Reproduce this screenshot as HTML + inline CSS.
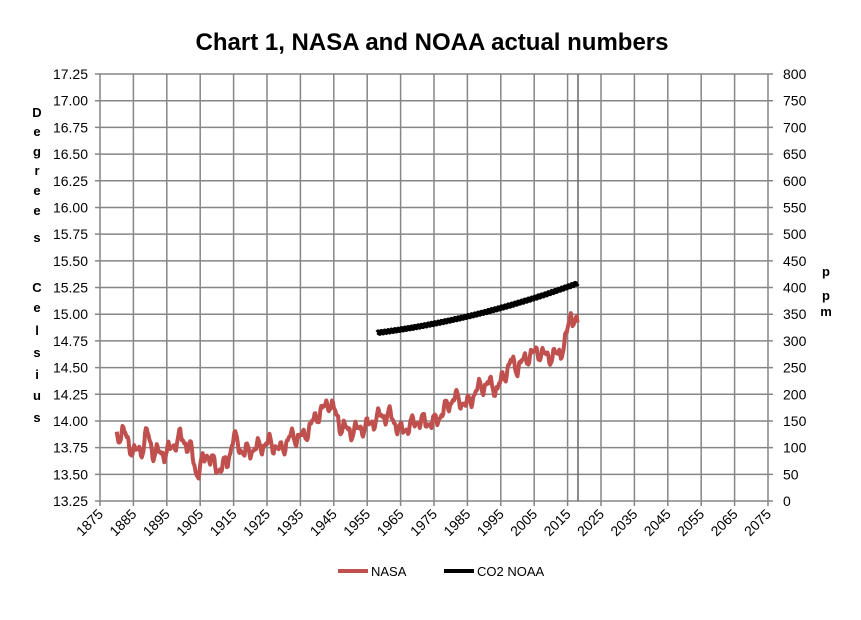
<!DOCTYPE html>
<html><head><meta charset="utf-8"><style>
body{margin:0;background:#fff}
svg{font-family:"Liberation Sans",sans-serif}
</style></head><body>
<svg id="s" width="861" height="615" xmlns="http://www.w3.org/2000/svg">
<text x="432" y="50" text-anchor="middle" font-size="24" font-weight="bold">Chart 1, NASA and NOAA actual numbers</text>
<g id="grid" stroke="#868686" stroke-width="1.5" fill="none"></g>
<g id="lab" font-size="14" fill="#000"></g>
<path id="nasa" fill="none" stroke="#c0504d" stroke-width="4" stroke-linejoin="round"/>
<path id="co2" fill="none" stroke="#000" stroke-width="5" stroke-linejoin="round"/>
<g font-size="13" font-weight="bold" text-anchor="middle">
<text x="37" y="117">D</text><text x="37" y="136">e</text><text x="37" y="156">g</text><text x="37" y="175">r</text><text x="37" y="195">e</text><text x="37" y="215">e</text><text x="37" y="242">s</text>
<text x="37" y="292">C</text><text x="37" y="312">e</text><text x="37" y="335">l</text><text x="37" y="357">s</text><text x="37" y="379">i</text><text x="37" y="400">u</text><text x="37" y="422">s</text>
<text x="826" y="276">p</text><text x="826" y="300">p</text><text x="826" y="316">m</text>
</g>
<line x1="338" y1="571" x2="368" y2="571" stroke="#c0504d" stroke-width="4"/>
<text x="371" y="576" font-size="13">NASA</text>
<line x1="444" y1="571" x2="474" y2="571" stroke="#000" stroke-width="4"/>
<text x="477" y="576" font-size="13">CO2 NOAA</text>
</svg>
<script>
var ns="http://www.w3.org/2000/svg",L=100,R=768,T=74,B=501;
function el(p,n,a,t){var e=document.createElementNS(ns,n);for(var k in a)e.setAttribute(k,a[k]);if(t!=null)e.textContent=t;document.getElementById(p).appendChild(e);}
function X(y){return L+(y-1875)/200*(R-L);}
function YT(t){return B-(t-13.25)/4*(B-T);}
function YC(c){return B-c/800*(B-T);}
for(var i=0;i<=16;i++){var y=T+i*(B-T)/16;el("grid","line",{x1:L-5,x2:R+5,y1:y,y2:y});
el("lab","text",{x:88,y:y+5,"text-anchor":"end"},(17.25-i*0.25).toFixed(2));
el("lab","text",{x:783,y:y+5},String(800-i*50));}
for(var i=0;i<=20;i++){var x=L+i*(R-L)/20;el("grid","line",{x1:x,x2:x,y1:T,y2:B+5});
el("lab","text",{x:x+4,y:B+14,"text-anchor":"end",transform:"rotate(-45 "+(x+4)+" "+(B+14)+")"},String(1875+i*10));}
el("grid","line",{x1:578,x2:578,y1:T,y2:B,stroke:"#666"});
var k=[[1880,13.85],[1882,13.9],[1885,13.7],[1888,13.75],[1889,13.9],[1891,13.7],[1895,13.7],[1899,13.85],[1902,13.75],[1904,13.5],[1907,13.7],[1910,13.55],[1913,13.6],[1915,13.85],[1918,13.7],[1922,13.75],[1926,13.8],[1929,13.72],[1932,13.85],[1936,13.85],[1940,14.05],[1944,14.18],[1947,13.95],[1950,13.9],[1955,13.95],[1959,14.05],[1962,14.05],[1965,13.9],[1970,14.0],[1975,13.98],[1978,14.1],[1981,14.22],[1985,14.15],[1988,14.3],[1991,14.35],[1994,14.3],[1998,14.55],[2000,14.5],[2003,14.6],[2006,14.65],[2009,14.6],[2012,14.62],[2014,14.7],[2016,15.0],[2017,14.95],[2018,14.88]];
function interp(y){for(var i=0;i<k.length-1;i++)if(y<=k[i+1][0]){var f=(y-k[i][0])/(k[i+1][0]-k[i][0]);return k[i][1]+f*(k[i+1][1]-k[i][1]);}return k[k.length-1][1];}
var d="";for(var y=1880;y<=2018;y+=0.25){var t=interp(y)+0.05*Math.sin(y*1.9)+0.035*Math.sin(y*3.7+1)+0.015*Math.sin(y*7.3);
d+=(d?"L":"M")+X(y).toFixed(1)+" "+YT(t).toFixed(1);}
document.getElementById("nasa").setAttribute("d",d);
d="";for(var y=1958;y<=2018;y+=0.25){var c=315+0.8*(y-1958)+0.0125*Math.pow(y-1958,2)+1.5*Math.sin(y*6.28);
d+=(d?"L":"M")+X(y).toFixed(1)+" "+YC(c).toFixed(1);}
document.getElementById("co2").setAttribute("d",d);
</script>
</body></html>
